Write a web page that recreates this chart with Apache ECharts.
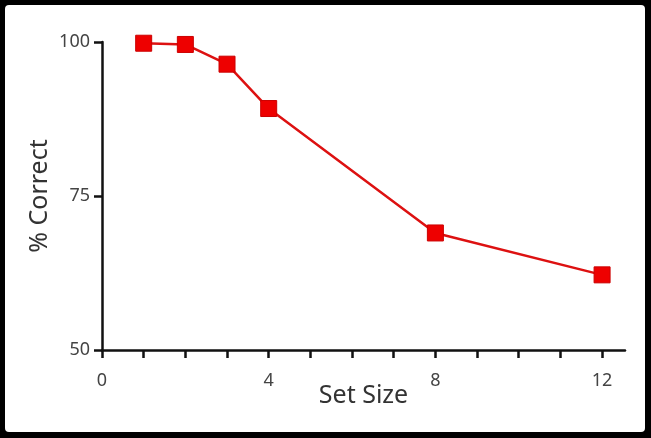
<!DOCTYPE html>
<html>
<head>
<meta charset="utf-8">
<script src="https://cdn.jsdelivr.net/npm/echarts@6/dist/echarts.min.js"></script>
<style>
    html, body { margin: 0; padding: 0; background: #000; }
    #frame { position: absolute; left: 5px; top: 5px; width: 640px; height: 427px; background: #fff; border-radius: 4px; }
    #chart { position: absolute; left: -5px; top: -5px; width: 651px; height: 438px; }
</style>
</head>
<body>
<div id="frame"><div id="chart"></div></div>
<script>
const setSizes = [1, 2, 3, 4, 8, 12];
const percentCorrect = [99.8, 99.6, 96.4, 89.2, 69.0, 62.2];
const xLabels = [0, 4, 8, 12];
const yTicks = [50, 75, 100];

const chart = echarts.init(document.getElementById("chart"));
const axisFont = "'Noto Sans', 'DejaVu Sans', sans-serif";
const option = {
    animation: false,
    grid: { left: 102, right: 26, top: 42, bottom: 88 },
    xAxis: {
        type: "value",
        min: 0,
        max: 12.55,
        interval: 1,
        name: "Set Size",
        nameLocation: "middle",
        nameGap: 33,
        nameMoveOverlap: false,
        nameTextStyle: { fontSize: 25, color: "#333", fontFamily: axisFont },
        splitLine: { show: false },
        axisLine: { lineStyle: { color: "#111", width: 2.5 } },
        axisTick: { length: 8, lineStyle: { color: "#111", width: 2.5 } },
        axisLabel: {
            fontSize: 18,
            color: "#444",
            fontFamily: axisFont,
            margin: 22,
            showMaxLabel: false,
            formatter: function (v) {
                return xLabels.indexOf(v) >= 0 ? String(v) : "";
            }
        }
    },
    yAxis: {
        type: "value",
        min: 50,
        max: 100,
        interval: 25,
        name: "% Correct",
        nameLocation: "middle",
        nameGap: 50,
        nameMoveOverlap: false,
        nameTextStyle: { fontSize: 25, color: "#333", fontFamily: axisFont },
        splitLine: { show: false },
        axisLine: { show: true, lineStyle: { color: "#111", width: 2.5 } },
        axisTick: { show: true, length: 8, lineStyle: { color: "#111", width: 2.5 } },
        axisLabel: {
            fontSize: 18,
            color: "#444",
            fontFamily: axisFont,
            margin: 12,
            formatter: function (v) {
                return yTicks.indexOf(v) >= 0 ? String(v) : "";
            }
        }
    },
    series: [
        {
            type: "line",
            data: setSizes.map((s, i) => [s, percentCorrect[i]]),
            symbol: "rect",
            symbolSize: 16,
            lineStyle: { color: "#dd1111", width: 2.5 },
            itemStyle: { color: "#ee0000", borderColor: "#cc0000", borderWidth: 1 }
        }
    ]
};
chart.setOption(option);
</script>
</body>
</html>
